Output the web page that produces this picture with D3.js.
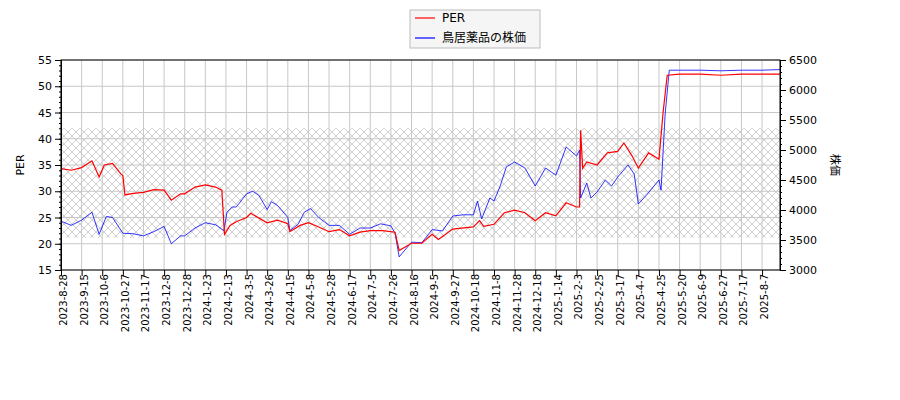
<!DOCTYPE html>
<html><head><meta charset="utf-8">
<script src="https://cdn.jsdelivr.net/npm/d3@7"></script>
<style>body{margin:0;background:#fff}text{font-family:"DejaVu Sans",sans-serif}</style>
</head><body><div id="chart"></div>
<script>
const tickLabels = ["2023-8-28","2023-9-15","2023-10-6","2023-10-27","2023-11-17","2023-12-8","2023-12-28","2024-1-23","2024-2-13","2024-3-5","2024-3-26","2024-4-15","2024-5-8","2024-5-28","2024-6-17","2024-7-5","2024-7-26","2024-8-16","2024-9-5","2024-9-27","2024-10-18","2024-11-8","2024-11-28","2024-12-18","2025-1-14","2025-2-3","2025-2-25","2025-3-17","2025-4-7","2025-4-25","2025-5-20","2025-6-9","2025-6-27","2025-7-17","2025-8-7"];
// positions in tick units (0 = first tick label)
const perT = [0,0.5,1,1.5,1.85,2.1,2.5,2.9,3,3.1,3.5,4,4.5,5,5.35,5.8,6,6.5,7,7.5,7.8,7.93,8.2,8.5,9,9.2,10,10.5,11,11.1,11.6,12,12.5,13,13.5,14,14.5,15,15.6,16.2,16.4,17,17.5,18,18.3,19,20,20.3,20.5,21,21.5,22,22.5,23,23.5,24,24.5,25,25.15,25.2,25.3,25.5,26,26.5,27,27.3,27.7,28,28.5,29,29.2,29.4,30,31,32,33,34,34.87];
const perV = [34.3,34.0,34.5,35.8,32.7,35,35.3,33.3,33,29.3,29.6,29.8,30.3,30.2,28.3,29.5,29.5,30.8,31.2,30.8,30.2,21.8,23.5,24.2,25,25.8,24,24.5,23.8,22.3,23.5,24,23.2,22.3,22.7,21.5,22.2,22.5,22.5,22.2,18.7,20.1,20.1,21.8,20.8,22.8,23.2,24.4,23.3,23.7,25.9,26.4,25.9,24.4,25.9,25.3,27.8,27,27,41.6,34.4,35.6,35,37.3,37.6,39.2,36.7,34.4,37.3,36.1,45,52.1,52.3,52.3,52.1,52.3,52.3,52.3];
const priceT = [0,0.5,1,1.5,1.85,2.2,2.5,3,3.5,4,4.5,5,5.35,5.8,6,6.5,7,7.5,7.9,8.05,8.3,8.5,9,9.3,9.6,10,10.2,10.5,11,11.1,11.5,11.8,12.1,12.5,13,13.5,14,14.5,15,15.5,16,16.2,16.4,17,17.5,18,18.5,19,19.5,20,20.2,20.4,20.8,21,21.3,21.6,22,22.5,23,23.5,24,24.5,25,25.15,25.2,25.5,25.7,26,26.4,26.7,27,27.5,27.8,28,28.4,29,29.1,29.3,29.5,30,31,32,33,34,34.87];
const priceV = [3814,3744,3831,3963,3595,3893,3875,3613,3604,3569,3639,3726,3438,3569,3569,3700,3788,3753,3656,3963,4050,4050,4269,4313,4243,4006,4138,4076,3875,3656,3761,3963,4024,3875,3744,3744,3595,3700,3700,3770,3735,3613,3219,3464,3455,3674,3650,3900,3920,3920,4150,3850,4200,4150,4400,4720,4800,4700,4400,4700,4580,5050,4900,5000,4200,4450,4200,4300,4500,4400,4550,4750,4600,4100,4250,4500,4330,5600,6330,6330,6330,6320,6330,6330,6340];
const bandPer = [21.1, 42];

const W = 900, H = 400, m = {l:61, r:120, t:60, b:130};
const svg = d3.select("#chart").append("svg").attr("width", W).attr("height", H);
const x = d3.scaleLinear().domain([0, 34.87]).range([m.l, W - m.r]);
const y = d3.scaleLinear().domain([15, 55]).range([H - m.b, m.t]);
const y2 = d3.scaleLinear().domain([3000, 6500]).range([H - m.b, m.t]);

// hatch pattern
const pat = svg.append("defs").append("pattern").attr("id","hatch").attr("patternUnits","userSpaceOnUse")
  .attr("width",8).attr("height",8);
pat.append("path").attr("d","M0,0L8,8M8,0L0,8").attr("stroke","#b0b0b0").attr("stroke-width",0.6);

svg.append("rect").attr("x", x(0)).attr("width", x(34.87) - x(0))
  .attr("y", y(bandPer[1])).attr("height", y(bandPer[0]) - y(bandPer[1])).attr("fill","url(#hatch)");

// grid
const grid = svg.append("g").attr("stroke","#c8c8c8").attr("stroke-width",1);
tickLabels.forEach((d,i) => grid.append("line").attr("x1",x(i)).attr("x2",x(i)).attr("y1",y(15)).attr("y2",y(55)));
d3.range(15,56,5).forEach(v => grid.append("line").attr("x1",x(0)).attr("x2",x(34.87)).attr("y1",y(v)).attr("y2",y(v)));

// lines
svg.append("path").datum(d3.zip(priceT, priceV)).attr("fill","none").attr("stroke","#0000ff").attr("stroke-width",0.8)
  .attr("d", d3.line().x(d => x(d[0])).y(d => y2(d[1])));
svg.append("path").datum(d3.zip(perT, perV)).attr("fill","none").attr("stroke","#ff0000").attr("stroke-width",1.2)
  .attr("d", d3.line().x(d => x(d[0])).y(d => y(d[1])));

// frame
svg.append("rect").attr("x",x(0)).attr("y",y(55)).attr("width",x(34.87)-x(0)).attr("height",y(15)-y(55))
  .attr("fill","none").attr("stroke","#000");

// axes
const xa = svg.append("g").attr("transform",`translate(0,${H-m.b})`)
  .call(d3.axisBottom(x).tickValues(d3.range(tickLabels.length)).tickFormat(i => tickLabels[i]).tickSizeOuter(0));
xa.selectAll("text").attr("transform","rotate(-90)").attr("text-anchor","end").attr("dx","-0.4em").attr("dy","-0.35em").attr("font-size",10);
xa.select(".domain").remove();

const ya = svg.append("g").attr("transform",`translate(${m.l},0)`).call(d3.axisLeft(y).tickValues(d3.range(15,56,5)).tickSizeOuter(0));
svg.append("g").attr("transform",`translate(${m.l},0)`).call(d3.axisLeft(y).tickValues(d3.range(15,56,1)).tickFormat("").tickSize(2).tickSizeOuter(0));
const yb = svg.append("g").attr("transform",`translate(${W-m.r},0)`).call(d3.axisRight(y2).tickValues(d3.range(3000,6501,500)).tickFormat(d3.format("d")).tickSizeOuter(0));
svg.append("g").attr("transform",`translate(${W-m.r},0)`).call(d3.axisRight(y2).tickValues(d3.range(3000,6501,100)).tickFormat("").tickSize(2).tickSizeOuter(0));
svg.selectAll(".tick text").attr("font-family","DejaVu Sans");
ya.selectAll("text").attr("font-size",11);
yb.selectAll("text").attr("font-size",11);

svg.append("text").attr("transform",`translate(24,${(m.t+H-m.b)/2}) rotate(-90)`).attr("text-anchor","middle").attr("font-size",11).text("PER");
svg.append("text").attr("transform",`translate(831,${(m.t+H-m.b)/2}) rotate(90)`).attr("text-anchor","middle").attr("font-size",11)
  .style("font-family","'Noto Sans CJK JP',sans-serif").text("株価");

// legend
const lg = svg.append("g").attr("transform","translate(410,10)");
lg.append("rect").attr("width",130).attr("height",38).attr("fill","#f5f5f5").attr("stroke","#bbb");
[["PER","#ff0000"],["鳥居薬品の株価","#0000ff"]].forEach((d,i) => {
  lg.append("line").attr("x1",5).attr("x2",25).attr("y1",8+i*20).attr("y2",8+i*20).attr("stroke",d[1]).attr("stroke-width",1.2);
  lg.append("text").attr("x",32).attr("y",12+i*20).attr("font-size",12)
    .style("font-family","'DejaVu Sans','Noto Sans CJK JP',sans-serif").text(d[0]);
});
</script></body></html>
